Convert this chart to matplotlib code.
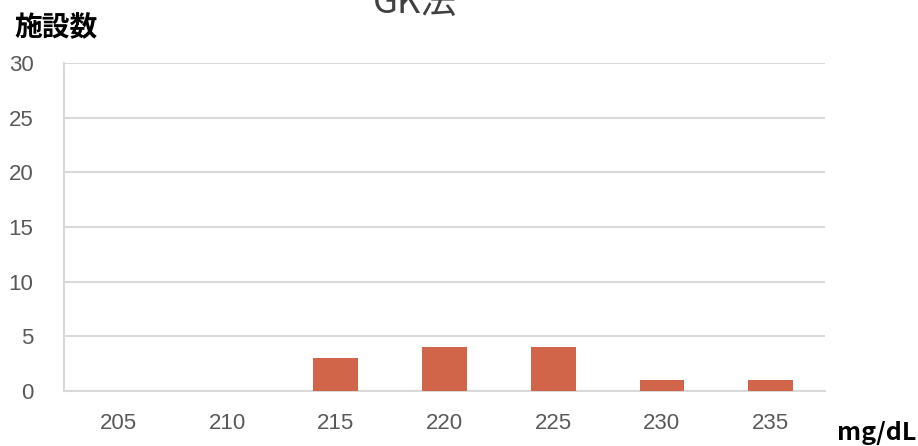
import matplotlib
matplotlib.use("Agg")
import matplotlib.pyplot as plt

categories = ["205", "210", "215", "220", "225", "230", "235"]
counts = [0, 0, 3, 4, 4, 1, 1]
yticks = [0, 5, 10, 15, 20, 25, 30]

plt.rcParams['font.family'] = ['Noto Sans CJK JP', 'DejaVu Sans']

fig = plt.figure(figsize=(9.18, 4.46), dpi=100)
ax = fig.add_axes([64/918, 1 - 391/446, (825-64)/918, (391-63)/446])

x = list(range(len(categories)))
ax.bar(x, counts, width=0.41, color="#D0654A", zorder=3)
ax.set_xlim(-0.5, len(categories) - 0.5)
ax.set_ylim(0, 30)
ax.set_yticks(yticks)
ax.set_xticks(x)
ax.set_xticklabels(categories)
ax.grid(axis="y", color="#D9D9D9", linewidth=1.5, zorder=0)
for s in ["top", "right"]:
    ax.spines[s].set_visible(False)
ax.spines["left"].set_color("#D9D9D9")
ax.spines["left"].set_linewidth(1.5)
ax.spines["bottom"].set_color("#D9D9D9")
ax.spines["bottom"].set_linewidth(1.5)
ax.tick_params(axis="both", length=0, labelsize=16, labelcolor="#595959")
ax.tick_params(axis="y", pad=22)
ax.tick_params(axis="x", pad=16)
for lab in ax.get_xticklabels() + ax.get_yticklabels():
    lab.set_family(['Liberation Sans Narrow', 'Liberation Sans', 'DejaVu Sans'])

fig.text(415/918, 1 - 13/446, "GK法", ha="center", va="baseline", fontsize=26, color="#404040")
fig.text(14/918, 1 - 28/446, "施設数", ha="left", va="center", fontsize=20, fontweight="bold", color="black")
fig.text(916/918, 1 - 433/446, "mg/dL", ha="right", va="center", fontsize=18, fontweight="bold", color="black")

fig.savefig("out.png", dpi=100)
